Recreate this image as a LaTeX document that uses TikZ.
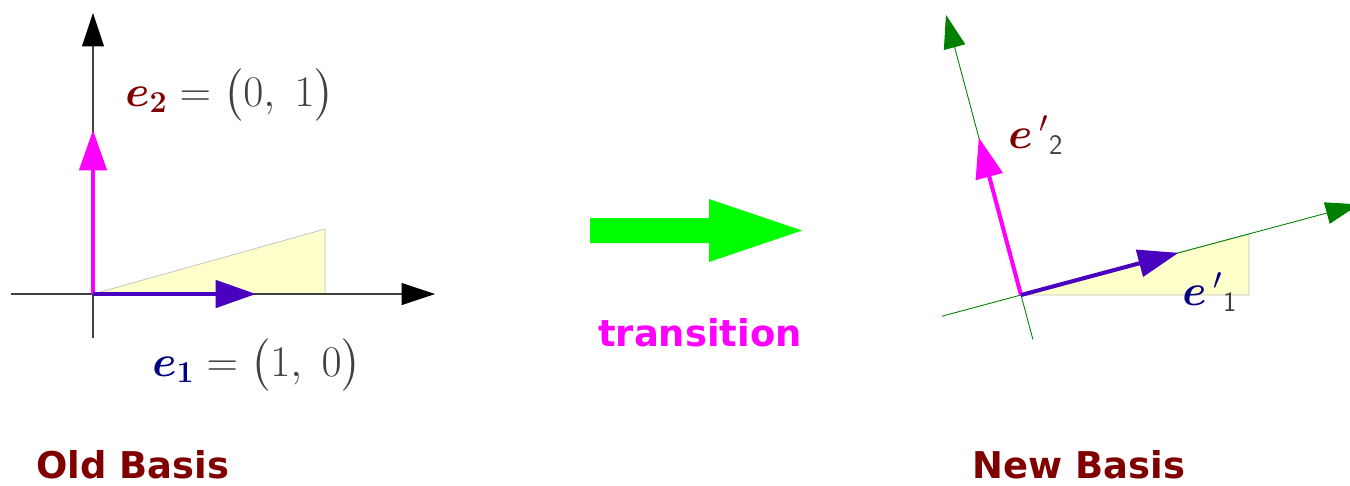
\documentclass[tikz,border=0pt]{standalone}
\usepackage{amsmath}
\usepackage{fontspec}
\usetikzlibrary{arrows.meta}

\newfontfamily\titlefont{DejaVu Sans}
\definecolor{basisred}{HTML}{800000}
\definecolor{basisnavy}{HTML}{000080}
\definecolor{vecviolet}{HTML}{4A00BF}
\definecolor{vecpink}{HTML}{FF00FF}
\definecolor{axisgreen}{HTML}{008000}
\definecolor{flashgreen}{HTML}{00FF00}
\definecolor{hintyellow}{HTML}{FFFFCC}
\definecolor{numgray}{HTML}{404040}

\tikzset{
  axis/.style={line width=0.6pt, draw=black!75, -{Triangle[length=19pt, width=12.5pt, color=black]}},
  newaxis/.style={line width=0.5pt, draw=axisgreen, -{Triangle[length=19pt, width=12.5pt]}},
  vecpinkarr/.style={line width=2.3pt, draw=vecpink, -{Triangle[length=23pt, width=15.5pt]}},
  vecviolarr/.style={line width=2.3pt, draw=vecviolet, -{Triangle[length=23pt, width=15.5pt]}},
  hint/.style={fill=hintyellow, draw=black!25, line width=0.4pt},
  mathlabel/.style={anchor=base west, inner sep=0pt, font=\fontsize{23}{28}\selectfont, text=numgray},
  primelabel/.style={anchor=base west, inner sep=0pt, font=\fontsize{23}{28}\selectfont, text=numgray},
  caption/.style={font=\titlefont\bfseries\fontsize{21}{25}\selectfont, text=basisred, inner sep=0pt},
}

\begin{document}
\begin{tikzpicture}[x=0.02cm, y=-0.02cm]
  \useasboundingbox (0,0) rectangle (1350,485);

  % Old basis (left)
  \coordinate (O) at (93,294);
  \coordinate (xneg) at (11,294);
  \coordinate (xpos) at (435,294);
  \coordinate (yneg) at (93,338);
  \coordinate (ypos) at (93,13);
  \coordinate (e1tip) at (256,294);
  \coordinate (e2tip) at (93,130);
  \fill[hint] (O) -- (325,229) -- (325,294) -- cycle;
  \draw[axis] (xneg) -- (xpos);
  \draw[axis] (yneg) -- (ypos);
  \draw[vecpinkarr] (O) -- (e2tip);
  \draw[vecviolarr] (O) -- (e1tip);
  \node (e2lab) [mathlabel] at (125,106)
    {$\color{basisred}\boldsymbol{e}_{\boldsymbol{2}}\color{numgray} = \bigl(0,\ 1\bigr)$};
  \node (e1lab) [mathlabel] at (152,376)
    {$\color{basisnavy}\boldsymbol{e}_{\boldsymbol{1}}\color{numgray} = \bigl(1,\ 0\bigr)$};
  \node (oldcap) [caption] at (133,465) {Old Basis};

  % Transition arrow (middle)
  \fill[flashgreen] (590,218) -- (709,218) -- (709,199) -- (802,230.5)
    -- (709,262) -- (709,243) -- (590,243) -- cycle;
  \node (trans) [font=\titlefont\bfseries\fontsize{21}{25}\selectfont, text=vecpink] at (700,333) {transition};

  % New basis (right), rotated by 15 degrees
  \fill[hint] (1021,295) -- (1249,234) -- (1249,295) -- cycle;
  \begin{scope}[shift={(1021,295)}, rotate=15]
    \coordinate (P) at (0,0);
    \coordinate (uneg) at (-82,0);
    \coordinate (upos) at (350,0);
    \coordinate (vneg) at (0,46);
    \coordinate (vpos) at (0,-290);
    \coordinate (f1tip) at (163,0);
    \coordinate (f2tip) at (0,-163);
    \draw[newaxis] (uneg) -- (upos);
    \draw[newaxis] (vneg) -- (vpos);
    \draw[vecpinkarr] (P) -- (f2tip);
    \draw[vecviolarr] (P) -- (f1tip);
  \end{scope}
  \node (f2lab) [primelabel] at (1008,148)
    {$\color{basisred}\boldsymbol{e}\,{}'\color{numgray}{}_{\mathsf{2}}$};
  \node (f1lab) [primelabel] at (1182,305)
    {$\color{basisnavy}\boldsymbol{e}\,{}'\color{numgray}{}_{\mathsf{1}}$};
  \node (newcap) [caption] at (1079,465) {New Basis};
\end{tikzpicture}
\end{document}
